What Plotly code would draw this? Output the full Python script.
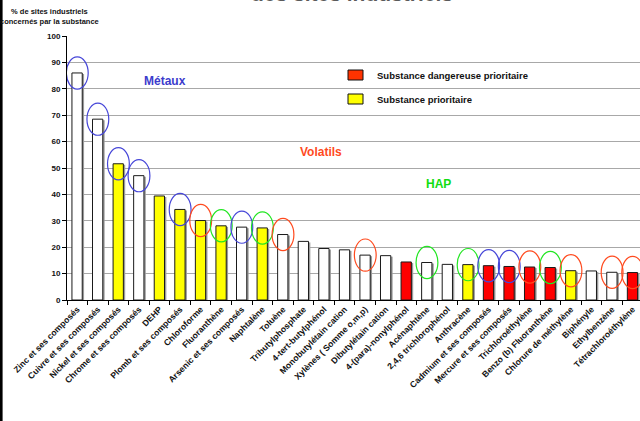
import plotly.graph_objects as go

# Substances and share of industrial sites concerned (%)
substances = [
    "Zinc et ses composés", "Cuivre et ses composés", "Nickel et ses composés",
    "Chrome et ses composés", "DEHP", "Plomb et ses composés", "Chloroforme",
    "Fluoranthène", "Arsenic et ses composés", "Naphtalène", "Toluène",
    "Tributylphosphate", "4-tert-butylphénol", "Monobutylétain cation",
    "Xylènes ( Somme o,m,p)", "Dibutylétain cation", "4-(para)-nonylphénol",
    "Acénaphtène", "2,4,6 trichlorophénol", "Anthracène",
    "Cadmium et ses composés", "Mercure et ses composés", "Trichloroéthylène",
    "Benzo (b) Fluoranthène", "Chlorure de méthylène", "Biphényle",
    "Ethylbenzène", "Tétrachloroéthylène",
]
pct_sites = [86.0, 68.5, 51.6, 47.1, 39.4, 34.3, 30.1, 28.1, 27.6, 27.3,
             24.8, 22.2, 19.5, 19.0, 17.0, 16.8, 14.4, 14.2, 13.5, 13.4,
             13.0, 12.7, 12.5, 12.3, 11.1, 11.0, 10.5, 10.4]

# Regulatory status: "SDP" dangerous priority, "SP" priority, "" none
status = ["", "", "SP", "", "SP", "SP", "SP", "SP", "", "SP",
          "", "", "", "", "", "", "SDP", "", "", "SP",
          "SDP", "SDP", "SDP", "SDP", "SP", "", "", "SDP"]

# Family highlighted around some bars: M = métaux, V = volatils, H = HAP
family = ["M", "M", "M", "M", "", "M", "V", "H", "M", "H",
          "V", "", "", "", "V", "", "", "H", "", "H",
          "M", "M", "V", "H", "V", "", "V", "V"]

yticks = list(range(0, 101, 10))

status_color = {"SDP": "#FF0000", "SP": "#FFFF00", "": "#FFFFFF"}
family_color = {"M": "#4646D8", "V": "#FF4A1E", "H": "#22E622"}
family_labels = [("Métaux", "#3C3CCC", 4.24, 82.9),
                 ("Volatils", "#FF4A1E", 11.85, 55.9),
                 ("HAP", "#11DD11", 17.54, 44.0)]
legend_items = [("Substance dangereuse prioritaire", "#FF3300"),
                ("Substance prioritaire", "#FFFF00")]

FONT = "Liberation Sans, Arial, sans-serif"
W, H = 640, 421
ML, MR, MT, MB = 67, 0, 36, 121
PW, PH = W - ML - MR, H - MT - MB

fig = go.Figure()

# light shadow behind each bar
fig.add_trace(go.Bar(
    x=substances, y=[v - 0.4 for v in pct_sites], width=0.5, offset=-0.17,
    marker=dict(color="#9A9A9A", line=dict(width=0)),
    showlegend=False, hoverinfo="skip",
))
fig.add_trace(go.Bar(
    x=substances, y=pct_sites, width=0.5, offset=-0.26,
    marker=dict(color=[status_color[s] for s in status],
                line=dict(color="#1A1A1A", width=1)),
    showlegend=False,
))

shapes = []
for i, (v, f) in enumerate(zip(pct_sites, family)):
    if f:
        shapes.append(dict(type="circle", xref="x", yref="y",
                           x0=i - 0.53, x1=i + 0.53, y0=v - 6.1, y1=v + 6.1,
                           line=dict(color=family_color[f], width=1.2),
                           layer="above"))

annotations = []
for text, col, xa, ya in family_labels:
    annotations.append(dict(text=text, x=xa, y=ya, xref="x", yref="y",
                            showarrow=False,
                            font=dict(family=FONT, size=12, color=col,
                                      weight="bold")))

# legend drawn as swatches + labels
for k, (text, col) in enumerate(legend_items):
    cy = 75 + 24 * k
    y_top = 1 - (cy - 5 - MT) / PH
    y_bot = 1 - (cy + 5 - MT) / PH
    shapes.append(dict(type="rect", xref="paper", yref="paper",
                       x0=(348 - ML) / PW, x1=(363 - ML) / PW,
                       y0=y_bot, y1=y_top, fillcolor=col,
                       line=dict(color="#111111", width=1)))
    annotations.append(dict(text=text, xref="paper", yref="paper",
                            x=(375 - ML) / PW, y=1 - (cy - MT) / PH,
                            xanchor="left", yanchor="middle", showarrow=False,
                            font=dict(family=FONT, size=9.5, color="#111111",
                                      weight="bold")))

# y-axis caption
annotations.append(dict(
    text="% de sites industriels<br>concernés par la substance",
    xref="paper", yref="paper", x=(49 - ML) / PW, y=1 + (MT - 17) / PH,
    xanchor="center", yanchor="middle", showarrow=False, align="center",
    font=dict(family=FONT, size=7.5, color="#111111", weight="bold")))

# chart title (second line, partly above the frame)
annotations.append(dict(
    text="des sites industriels", xref="paper", yref="paper",
    x=(352 - ML) / PW, y=1 + (MT - 7) / PH, xanchor="center",
    yanchor="bottom", showarrow=False,
    font=dict(family=FONT, size=21, color="#5A5A5A", weight="bold")))

# left frame border
shapes.append(dict(type="line", xref="paper", yref="paper",
                   x0=(1.3 - ML) / PW, x1=(1.3 - ML) / PW,
                   y0=-MB / PH - 0.05, y1=1 + MT / PH + 0.05,
                   line=dict(color="#000000", width=2.6)))

fig.update_layout(
    width=W, height=H,
    margin=dict(l=ML, r=MR, t=MT, b=MB, pad=0),
    paper_bgcolor="white", plot_bgcolor="white",
    barmode="overlay", bargap=0.5,
    shapes=shapes, annotations=annotations,
    font=dict(family=FONT, color="#111111"),
    xaxis=dict(
        type="category", categoryorder="array", categoryarray=substances,
        range=[-0.5, -0.5 + PW / 20.57], tickangle=-45, tickson="boundaries",
        tickfont=dict(family=FONT, size=8.6, weight="bold", color="#111111"),
        showline=True, linecolor="#000000", linewidth=1,
        ticks="outside", ticklen=4, tickcolor="#000000",
        showgrid=False, zeroline=False,
    ),
    yaxis=dict(
        range=[0, 100], tickvals=yticks,
        tickfont=dict(family=FONT, size=8, weight="bold", color="#111111"),
        showline=True, linecolor="#000000", linewidth=1,
        ticks="outside", ticklen=4, tickcolor="#000000",
        showgrid=True, gridcolor="#A8A8A8", gridwidth=1, zeroline=False,
    ),
)

fig.write_html("out.html")
